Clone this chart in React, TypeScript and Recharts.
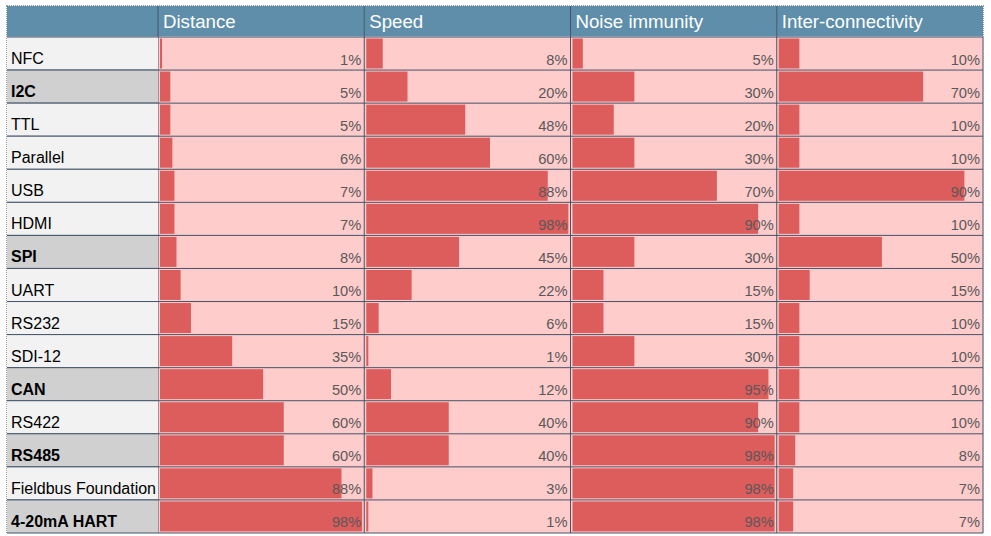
import React from 'react';
import { BarChart, Bar, XAxis, YAxis, CartesianGrid, LabelList } from 'recharts';

// ---------- data ----------
const protocols = [
  'NFC', 'I2C', 'TTL', 'Parallel', 'USB', 'HDMI', 'SPI', 'UART', 'RS232',
  'SDI-12', 'CAN', 'RS422', 'RS485', 'Fieldbus Foundation', '4-20mA HART',
];
const distance = [1, 5, 5, 6, 7, 7, 8, 10, 15, 35, 50, 60, 60, 88, 98];
const speed = [8, 20, 48, 60, 88, 98, 45, 22, 6, 1, 12, 40, 40, 3, 1];
const noiseImmunity = [5, 30, 20, 30, 70, 90, 30, 15, 15, 30, 95, 90, 98, 98, 98];
const interConnectivity = [10, 70, 10, 10, 90, 10, 50, 15, 10, 10, 10, 10, 8, 7, 7];
const metrics = ['Distance', 'Speed', 'Noise immunity', 'Inter-connectivity'];
const highlighted = ['I2C', 'SPI', 'CAN', 'RS485', '4-20mA HART'];

const data = protocols.map((name, i) => ({
  name,
  m0: distance[i],
  m1: speed[i],
  m2: noiseImmunity[i],
  m3: interConnectivity[i],
}));
// each metric occupies 100 units (0..100%) of a shared horizontal scale
const columnStarts = metrics.map((_, k) => k * 100);

// ---------- layout / style ----------
const W = 991;
const H = 536;
const M = { top: 6, right: 8, bottom: 3, left: 7 };
const LABEL_W = 151;
const HEADER_H = 31;
const PLOT_LEFT = M.left + LABEL_W;
const PLOT_W = W - M.left - M.right - LABEL_W;
const COL_W = PLOT_W / metrics.length;
const PLOT_TOP = M.top + HEADER_H;
const PLOT_H = H - PLOT_TOP - M.bottom;
const ROW_H = PLOT_H / protocols.length;

const FONT = '"Liberation Sans", Arial, Helvetica, sans-serif';
const LINE = '#44546a';
const HEADER_BG = '#5e8eaa';
const CELL_BG = '#ffcccc';
const BAR = '#dd5c5c';
const LABEL_BG = '#f2f2f2';
const LABEL_BG_HI = '#d0d0d0';
const VALUE_COLOR = '#595959';

const HeaderTick = (props: any) => {
  const { x, payload } = props;
  const k = Math.round(payload.value / 100);
  if (k < 0 || k >= metrics.length) return <g />;
  return (
    <g>
      {k === 0 && (
        <rect x={M.left} y={M.top} width={x - M.left} height={HEADER_H - 0.5} fill={HEADER_BG} />
      )}
      <rect x={x} y={M.top} width={COL_W} height={HEADER_H - 0.5} fill={HEADER_BG} />
      <line x1={x} x2={x} y1={M.top} y2={PLOT_TOP} stroke={LINE} strokeWidth={1} />
      <text x={x + 5} y={PLOT_TOP - 9} fill="#ffffff" fontSize={18.67} fontFamily={FONT}>
        {metrics[k]}
      </text>
    </g>
  );
};

const LabelTick = (props: any) => {
  const { y, payload } = props;
  const name = payload.value;
  const bold = highlighted.includes(name);
  const top = y - ROW_H / 2;
  const bottom = y + ROW_H / 2;
  return (
    <g>
      <rect x={M.left} y={top} width={LABEL_W} height={ROW_H} fill={bold ? LABEL_BG_HI : LABEL_BG} />
      <line x1={M.left} x2={PLOT_LEFT} y1={top} y2={top} stroke={LINE} />
      <line x1={M.left} x2={PLOT_LEFT} y1={bottom} y2={bottom} stroke={LINE} />
      <text
        x={M.left + 4}
        y={bottom - 6}
        fontSize={16}
        fontFamily={FONT}
        fontWeight={bold ? 'bold' : 'normal'}
        fill="#000000"
      >
        {name}
      </text>
    </g>
  );
};

const ValueLabel = (props: any) => {
  const vb = props.viewBox && props.viewBox.x !== undefined ? props.viewBox : props;
  const { x, y, height } = vb;
  const value = props.value;
  const center = y + height / 2;
  return (
    <text
      x={x + COL_W - 3}
      y={center + ROW_H / 2 - 6}
      textAnchor="end"
      fontSize={14.67}
      fontFamily={FONT}
      fill={VALUE_COLOR}
    >
      {value}%
    </text>
  );
};

const BarShape = (props: any) => {
  const { x, y, width, height, fill } = props;
  return <rect x={x + 2} y={y - 0.5} width={Math.max(width, 0)} height={height} fill={fill} />;
};

const rowBoundaries = (p: any) => {
  const o = p.offset;
  return protocols.map((_, i) => o.top + (i * o.height) / protocols.length).concat(o.top + o.height);
};
const columnBoundaries = (p: any) => {
  const o = p.offset;
  return metrics.map((_, k) => o.left + (k * o.width) / metrics.length).concat(o.left + o.width);
};

export default function App() {
  return (
    <div style={{ position: 'absolute', left: 0, top: 0, width: W, height: H, background: '#ffffff' }}>
      <BarChart width={W} height={H} data={data} layout="vertical" margin={M} barSize={30}>
        <CartesianGrid
          xAxisId="x0"
          yAxisId="c0"
          fill={CELL_BG}
          fillOpacity={1}
          stroke={LINE}
          strokeOpacity={1}
          horizontalCoordinatesGenerator={rowBoundaries}
          verticalCoordinatesGenerator={columnBoundaries}
        />
        {metrics.map((_, k) =>
          k === 0 ? (
            <XAxis
              key="x0"
              xAxisId="x0"
              orientation="top"
              type="number"
              domain={[0, 100 * metrics.length]}
              allowDataOverflow
              ticks={columnStarts}
              height={HEADER_H}
              axisLine={false}
              tickLine={false}
              tick={HeaderTick}
              interval={0}
            />
          ) : (
            <XAxis
              key={'x' + k}
              xAxisId={'x' + k}
              type="number"
              domain={[-100 * k, 100 * (metrics.length - k)]}
              allowDataOverflow
              hide
            />
          )
        )}
        <YAxis
          yAxisId="c0"
          type="category"
          dataKey="name"
          width={LABEL_W}
          axisLine={false}
          tickLine={false}
          tick={LabelTick}
          interval={0}
        />
        {[1, 2, 3].map((k) => (
          <YAxis key={'c' + k} yAxisId={'c' + k} type="category" dataKey="name" hide />
        ))}
        {metrics.map((_, k) => (
          <Bar
            key={'b' + k}
            dataKey={'m' + k}
            xAxisId={'x' + k}
            yAxisId={'c' + k}
            fill={BAR}
            shape={BarShape}
            isAnimationActive={false}
          >
            <LabelList dataKey={'m' + k} content={ValueLabel} />
          </Bar>
        ))}
      </BarChart>
      <div
        style={{
          position: 'absolute',
          left: M.left - 1,
          top: M.top - 1,
          width: W - M.left - M.right,
          height: H - M.top - M.bottom,
          borderTop: '1px dotted #9a9a9a',
          borderLeft: '1px dotted #9a9a9a',
          borderRight: '1px dotted #9a9a9a',
          pointerEvents: 'none',
        }}
      />
    </div>
  );
}
